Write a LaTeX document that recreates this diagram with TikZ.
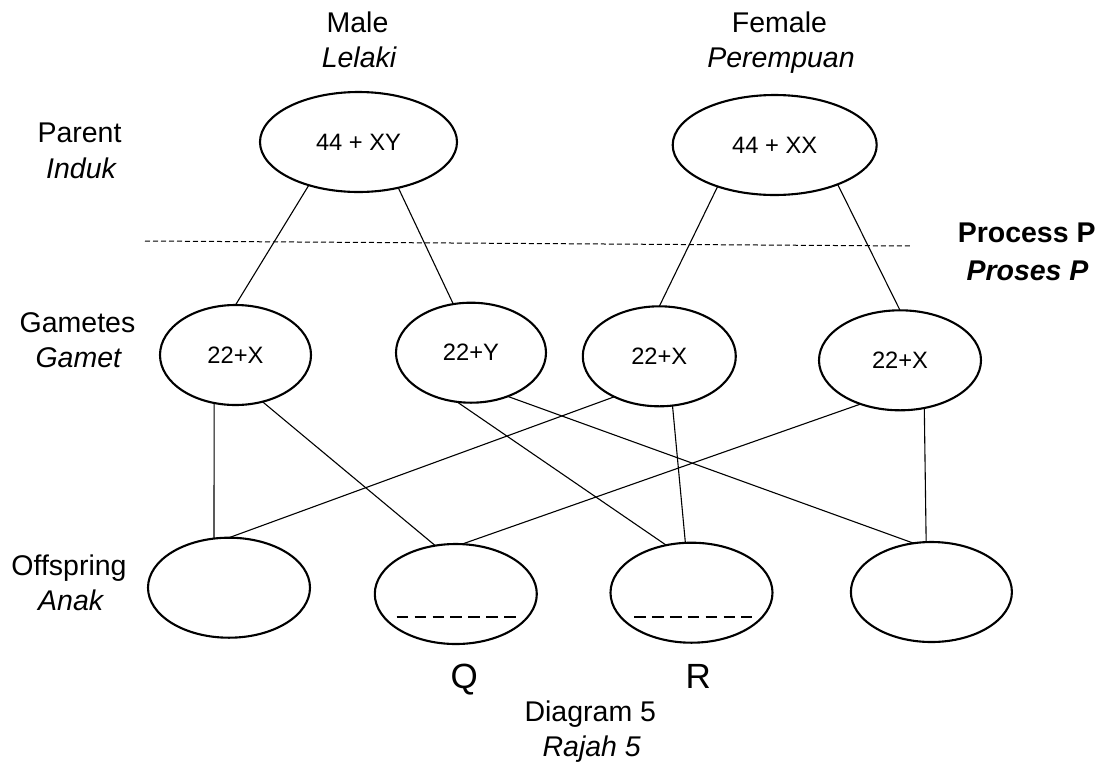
\documentclass[tikz,border=0pt]{standalone}
\usepackage{fontspec}
\setmainfont{Liberation Sans}
\usetikzlibrary{shapes.geometric}
\begin{document}
\begin{tikzpicture}[x=1pt,y=-1pt,
  oval/.style={ellipse, draw, line width=2.1pt, inner sep=0pt, outer sep=0pt,
    minimum height=100pt, font=\fontsize{23.7}{28}\selectfont},
  lbl/.style={anchor=base, inner sep=0pt, font=\fontsize{28.5}{34}\selectfont},
  lbli/.style={anchor=base, inner sep=0pt, font=\fontsize{28.5}{34}\selectfont\itshape},
  lblb/.style={anchor=base, inner sep=0pt, font=\fontsize{28.5}{34}\selectfont\bfseries},
  lblbi/.style={anchor=base, inner sep=0pt, font=\fontsize{28.5}{34}\selectfont\bfseries\itshape},
  big/.style={anchor=base, inner sep=0pt, font=\fontsize{35}{40}\selectfont},
  link/.style={line width=1.1pt},
  sepline/.style={line width=1pt, dash pattern=on 5pt off 3pt},
  blank/.style={line width=2.1pt, dash pattern=on 11.7pt off 6.2pt}]
\useasboundingbox (0,0) rectangle (1101,764);

% labels
\node[lbl]  (male)   at (357.5,32)  {Male};
\node[lbli] (lelaki) at (359,67)    {Lelaki};
\node[lbl]  (female) at (779.5,32)  {Female};
\node[lbli] (perem)  at (781,67)    {Perempuan};
\node[lbl]  (parent) at (79.5,142)  {Parent};
\node[lbli] (induk)  at (81,178)    {Induk};
\node[lbl]  (gametes) at (77.5,332) {Gametes};
\node[lbli] (gamet)  at (78.3,367)  {Gamet};
\node[lbl]  (offs)   at (69,575)    {Offspring};
\node[lbli] (anak)   at (70.7,610.7) {Anak};
\node[lblb] (procp)  at (1026.7,242.7) {Process P};
\node[lblbi] (prosp) at (1027.5,280) {Proses P};
\node[big]  (qlbl)   at (464.3,688.3) {Q};
\node[big]  (rlbl)   at (698.3,688.3) {R};
\node[lbl]  (diag)   at (590.3,721.7) {Diagram 5};
\node[lbli] (rajah)  at (591.7,756.7) {Rajah 5};

% ellipses
\node[oval, minimum width=197pt] (M) at (358.5,142) {44 + XY};
\node[oval, minimum width=204pt] (F) at (774.7,145) {44 + XX};
\node[oval, minimum width=151pt] (G1) at (235.5,355) {22+X};
\node[oval, minimum width=150pt] (G2) at (471,352.7) {22+Y};
\node[oval, minimum width=153pt] (G3) at (659.3,356.3) {22+X};
\node[oval, minimum width=162pt] (G4) at (900,360.3) {22+X};
\node[oval, minimum width=162pt] (O1) at (229,587.7) {};
\node[oval, minimum width=162pt] (O2) at (455.8,594) {};
\node[oval, minimum width=162pt] (O3) at (691.5,592.7) {};
\node[oval, minimum width=161pt] (O4) at (931.4,592) {};

% separator
\coordinate (sa) at (145,241);
\coordinate (sb) at (912,246);
\draw[sepline] (sa) -- (sb);

% blanks
\coordinate (qa) at (396.7,616.7);
\coordinate (qb) at (516,616.7);
\draw[blank] (qa) -- (qb);
\coordinate (ra) at (634,616.7);
\coordinate (rb) at (752.3,616.7);
\draw[blank] (ra) -- (rb);

% connectors
\draw[link] (M.221) -- (G1.north);
\draw[link] (M.311) -- (G2.110);
\draw[link] (F.216) -- (G3.north);
\draw[link] (F.328) -- (G4.north);
\draw[link] (G1.246) -- (O1.107);
\draw[link] (G1.300) -- (O2.113);
\draw[link] (G3.222) -- (O1.north);
\draw[link] (G4.228) -- (O2.83);
\draw[link] (G2.254) -- (O3.118);
\draw[link] (G2.310) -- (O4.110);
\draw[link] (G3.285) -- (O3.97);
\draw[link] (G4.297) -- (O4.96);
\end{tikzpicture}
\end{document}
